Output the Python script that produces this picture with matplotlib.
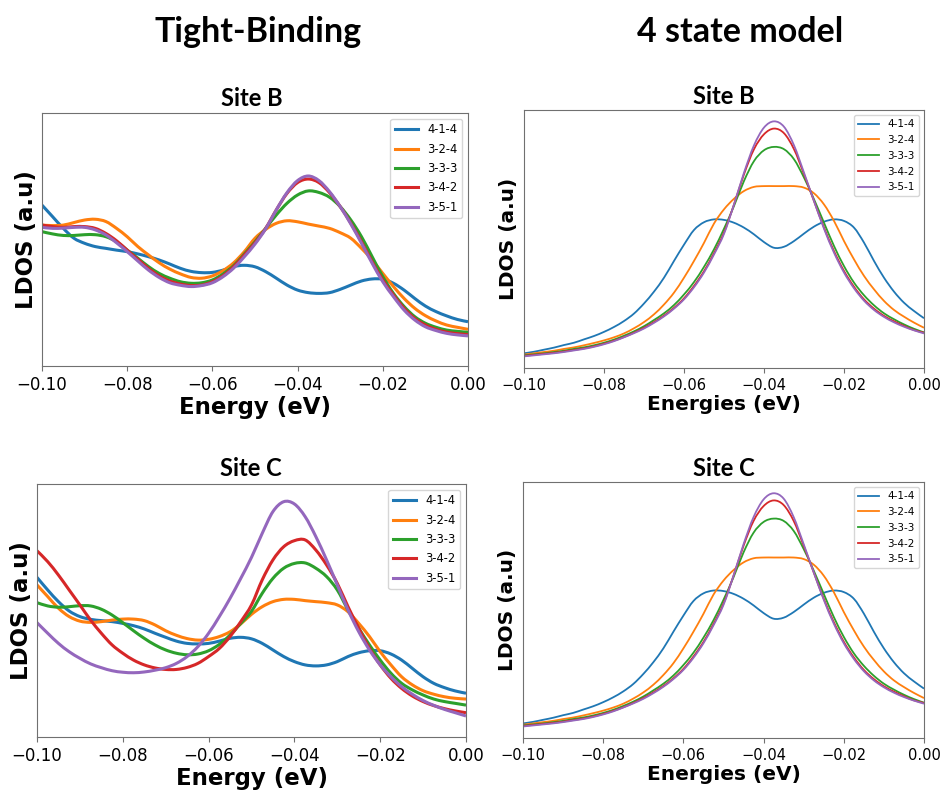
import numpy as np
import matplotlib.pyplot as plt
from matplotlib.path import Path
from matplotlib.patches import PathPatch

# energy grid (eV), shared by every curve
energy = np.linspace(-0.10, 0.00, 41)
labels = ['4-1-4', '3-2-4', '3-3-3', '3-4-2', '3-5-1']

# Tight-binding LDOS, site B (a.u.)
tb_b_414 = [63.6, 59.0, 54.4, 50.5, 48.5, 47.2, 46.5, 45.8, 45.2, 44.3, 43.2, 41.9, 40.3, 38.6, 37.4, 36.9, 37.0, 37.9, 39.3, 39.8, 39.2,
            37.3, 34.7, 32.0, 30.0, 29.0, 28.7, 29.0, 30.3, 32.0, 33.6, 34.4, 34.3, 32.7, 30.0, 26.7, 23.7, 21.5, 19.8, 18.4, 17.5]
tb_b_324 = [55.7, 55.5, 55.7, 56.7, 57.7, 58.0, 57.1, 54.4, 51.1, 47.2, 43.9, 40.8, 38.3, 36.4, 35.0, 34.7, 35.6, 37.7, 40.8, 45.2, 50.5,
            54.0, 56.4, 57.4, 57.0, 56.1, 55.3, 54.4, 52.7, 50.5, 46.5, 41.9, 36.6, 31.4, 26.7, 22.8, 19.9, 17.8, 16.2, 15.3, 14.5]
tb_b_333 = [53.1, 52.2, 51.6, 51.6, 51.9, 51.9, 51.1, 49.1, 45.8, 42.6, 39.3, 36.6, 34.7, 33.3, 32.7, 32.9, 34.0, 36.4, 39.7, 44.3, 49.1,
            54.4, 59.7, 64.3, 67.6, 69.2, 68.6, 66.7, 63.0, 57.7, 51.1, 43.2, 35.3, 28.7, 23.5, 19.5, 16.9, 15.3, 14.2, 13.7, 13.3]
tb_b_342 = [55.7, 55.1, 54.8, 55.1, 55.1, 54.4, 52.4, 49.5, 45.8, 42.2, 38.6, 35.6, 33.6, 32.4, 31.8, 32.0, 33.3, 35.7, 39.3, 43.9, 48.7,
            54.4, 61.7, 68.2, 72.5, 73.9, 72.5, 68.5, 63.0, 56.4, 49.1, 41.2, 34.0, 28.1, 22.8, 18.8, 16.2, 14.5, 13.4, 12.8, 12.4]
tb_b_351 = [54.8, 54.4, 54.5, 54.8, 54.8, 53.8, 51.8, 48.7, 45.2, 41.5, 37.9, 35.0, 32.9, 31.9, 31.4, 31.8, 32.9, 35.3, 38.7, 43.2, 48.2,
            54.2, 61.7, 68.5, 73.3, 75.1, 73.3, 68.9, 63.0, 56.1, 48.5, 40.6, 33.3, 27.4, 22.1, 18.2, 15.5, 14.0, 12.9, 12.3, 11.9]

# Tight-binding LDOS, site C (a.u.)
tb_c_414 = [63.1, 58.1, 53.5, 49.8, 47.6, 46.5, 46.0, 45.6, 44.9, 44.0, 42.7, 41.0, 39.4, 37.9, 37.0, 36.8, 37.0, 37.9, 39.0, 39.4, 38.8,
            37.0, 34.4, 31.8, 29.8, 28.5, 28.1, 28.5, 29.8, 31.8, 33.3, 34.1, 34.1, 32.8, 30.4, 27.1, 23.8, 21.2, 19.5, 18.2, 17.3]
tb_c_324 = [60.1, 55.5, 50.9, 47.6, 45.8, 45.3, 45.6, 46.2, 46.6, 46.6, 46.0, 44.3, 42.0, 40.2, 38.9, 38.3, 38.6, 39.7, 41.6, 44.7, 48.5,
            51.5, 53.5, 54.4, 54.4, 53.9, 53.5, 53.1, 52.2, 49.5, 44.9, 39.7, 33.7, 28.5, 23.8, 20.6, 18.3, 16.9, 15.9, 15.3, 15.0]
tb_c_333 = [53.1, 51.8, 51.3, 51.5, 51.9, 51.8, 50.5, 48.2, 45.2, 42.0, 39.0, 36.4, 34.4, 33.1, 32.5, 32.8, 34.1, 36.6, 40.3, 44.9, 49.7,
            56.8, 62.7, 66.7, 68.6, 68.8, 66.7, 63.4, 58.1, 50.2, 43.0, 36.4, 30.4, 25.2, 21.2, 18.6, 16.6, 15.0, 14.0, 13.3, 12.6]
tb_c_342 = [73.6, 69.3, 64.0, 58.1, 52.2, 46.2, 41.0, 36.4, 33.1, 30.4, 28.5, 27.3, 26.7, 26.7, 27.5, 29.1, 31.8, 35.0, 39.7, 45.6, 52.2,
            62.1, 70.0, 75.2, 77.6, 77.9, 73.9, 68.0, 60.7, 51.5, 43.0, 35.0, 28.5, 23.2, 19.2, 16.2, 14.0, 12.4, 11.2, 10.3, 9.6]
tb_c_351 = [45.2, 41.0, 37.0, 33.7, 31.1, 28.9, 27.4, 26.2, 25.6, 25.4, 25.7, 26.4, 27.4, 29.1, 31.8, 35.7, 41.0, 47.6, 54.8, 62.7, 71.0,
            80.5, 89.1, 93.0, 92.1, 87.1, 79.2, 70.0, 60.1, 50.2, 41.6, 34.4, 28.5, 23.8, 19.9, 16.9, 14.4, 12.5, 10.9, 9.6, 8.3]

# 4 state model LDOS (a.u.), identical at sites B and C
m4_414 = [5.7, 6.3, 7.1, 7.9, 8.9, 9.8, 11.1, 12.4, 14.0, 15.9, 18.2, 21.1, 25.0, 29.6, 35.0, 41.5, 47.8, 53.5, 56.5, 57.6, 57.4,
          56.3, 54.4, 51.8, 48.8, 46.6, 47.0, 49.2, 52.1, 54.8, 56.7, 57.6, 57.0, 54.4, 48.6, 41.5, 35.0, 29.6, 25.3, 22.1, 19.3]
m4_324 = [5.2, 5.7, 6.2, 6.7, 7.4, 8.0, 8.8, 9.7, 10.7, 11.9, 13.4, 15.4, 17.8, 20.8, 24.6, 29.2, 35.0, 41.5, 48.5, 56.0, 61.5,
          65.6, 68.6, 70.2, 70.5, 70.5, 70.5, 70.5, 69.9, 67.7, 63.4, 57.0, 49.2, 42.1, 35.7, 30.5, 26.0, 22.5, 19.9, 17.6, 15.6]
m4_333 = [4.9, 5.3, 5.7, 6.2, 6.7, 7.4, 8.0, 8.8, 9.8, 11.0, 12.5, 14.2, 16.2, 18.6, 21.2, 24.4, 28.5, 33.3, 39.2, 46.0, 54.0,
          62.8, 72.5, 80.2, 84.4, 85.7, 84.8, 80.9, 73.8, 65.4, 56.3, 47.3, 39.5, 33.1, 28.2, 24.3, 21.2, 18.9, 16.9, 15.2, 13.8]
m4_342 = [4.7, 5.1, 5.5, 5.9, 6.4, 7.0, 7.6, 8.4, 9.4, 10.6, 12.0, 13.7, 15.6, 17.8, 20.3, 23.3, 27.0, 31.8, 37.5, 44.5, 52.5,
          63.4, 75.1, 84.8, 90.6, 92.8, 91.0, 84.8, 75.1, 64.7, 54.4, 45.3, 37.6, 31.5, 26.6, 23.0, 20.2, 18.1, 16.3, 14.7, 13.7]
m4_351 = [4.5, 4.9, 5.3, 5.7, 6.2, 6.8, 7.4, 8.2, 9.2, 10.4, 11.9, 13.5, 15.3, 17.5, 20.0, 23.0, 26.6, 31.3, 37.0, 44.0, 52.0,
          63.4, 75.7, 86.3, 93.2, 95.6, 93.5, 86.3, 75.7, 64.7, 54.0, 44.7, 37.0, 30.9, 26.1, 22.5, 19.8, 17.7, 16.0, 14.6, 13.4]

tb_b = [tb_b_414, tb_b_324, tb_b_333, tb_b_342, tb_b_351]
tb_c = [tb_c_414, tb_c_324, tb_c_333, tb_c_342, tb_c_351]
m4 = [m4_414, m4_324, m4_333, m4_342, m4_351]

colors = plt.rcParams['axes.prop_cycle'].by_key()['color'][:5]
head_font = ['Lato', 'DejaVu Sans']
frame_col = '#707070'


def smooth_path(x, y):
    # cubic Bezier path through every sample (Catmull-Rom tangents)
    x = np.asarray(x, float)
    y = np.asarray(y, float)
    verts = [(x[0], y[0])]
    codes = [Path.MOVETO]
    n = len(x)
    for i in range(n - 1):
        i0 = max(i - 1, 0)
        i3 = min(i + 2, n - 1)
        c1 = (x[i] + (x[i + 1] - x[i0]) / 6, y[i] + (y[i + 1] - y[i0]) / 6)
        c2 = (x[i + 1] - (x[i3] - x[i]) / 6, y[i + 1] - (y[i3] - y[i]) / 6)
        verts += [c1, c2, (x[i + 1], y[i + 1])]
        codes += [Path.CURVE4] * 3
    return Path(verts, codes)


fig = plt.figure(figsize=(9.43, 7.91), dpi=100)

# column headers
fig.text(258 / 943, 1 - 32 / 791, 'Tight-Binding', family=head_font, weight='bold',
         fontsize=24.5, ha='center', va='center')
fig.text(740 / 943, 1 - 32 / 791, '4 state model', family=head_font, weight='bold',
         fontsize=24.5, ha='center', va='center')


def panel(rect, curves, title, title_xy, xlabel, lw, tick_fs, lab_fs, leg_fs, ypad):
    ax = fig.add_axes(rect)
    for y, lab, c in zip(curves, labels, colors):
        ax.add_patch(PathPatch(smooth_path(energy, y), fill=False, edgecolor=c, lw=lw,
                               joinstyle='round', capstyle='butt'))
        ax.plot([], [], color=c, lw=lw, label=lab)
    ax.set_xlim(-0.10, 0.00)
    ax.set_ylim(0, 100)
    ax.set_xticks([-0.10, -0.08, -0.06, -0.04, -0.02, 0.00])
    ax.set_xticklabels(['\u22120.10', '\u22120.08', '\u22120.06', '\u22120.04', '\u22120.02', '0.00'])
    ax.set_yticks([])
    ax.tick_params(axis='x', labelsize=tick_fs, color=frame_col)
    for s in ax.spines.values():
        s.set_color(frame_col)
    ax.set_xlabel(xlabel, fontsize=lab_fs, weight='bold', labelpad=2)
    ax.set_ylabel('LDOS (a.u)', fontsize=lab_fs, weight='bold', labelpad=ypad)
    ax.legend(loc='upper right', fontsize=leg_fs, labelspacing=0.55)
    fig.text(title_xy[0] / 943, 1 - title_xy[1] / 791, title, family=head_font, weight='bold',
             fontsize=17, ha='center', va='center')
    return ax


panel([42 / 943, 1 - 366 / 791, 426 / 943, 253 / 791], tb_b, 'Site B', (252, 99),
      'Energy (eV)', 2.2, 12, 16.5, 8.3, 3)
panel([37 / 943, 1 - 737 / 791, 429 / 943, 253 / 791], tb_c, 'Site C', (251, 468),
      'Energy (eV)', 2.2, 12, 16.5, 8.3, 3)
panel([524 / 943, 1 - 368 / 791, 400 / 943, 258 / 791], m4, 'Site B', (724, 97),
      'Energies (eV)', 1.3, 10.5, 14.5, 7.5, 4)
panel([523 / 943, 1 - 738 / 791, 401 / 943, 256 / 791], m4, 'Site C', (724, 468),
      'Energies (eV)', 1.3, 10.5, 14.5, 7.5, 4)

fig.savefig('out.png', dpi=100)
